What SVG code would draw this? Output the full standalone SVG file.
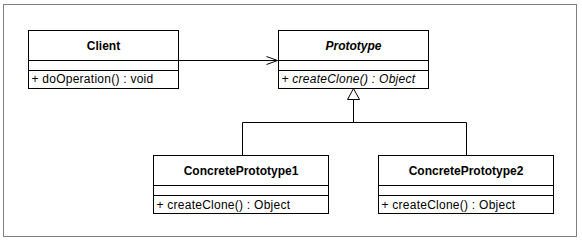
<svg xmlns="http://www.w3.org/2000/svg" width="582" height="242" viewBox="0 0 582 242">
<defs>
<style>
.box{fill:#fff;stroke:#000;stroke-width:1}
.ln{stroke:#000;stroke-width:1;fill:none}
.t{font-family:"Liberation Sans",Arial,sans-serif;font-size:12px;font-weight:bold;text-anchor:middle;fill:#000}
.m{font-family:"Liberation Sans",Arial,sans-serif;font-size:12px;letter-spacing:0.25px;fill:#000}
</style>
<marker id="open" markerWidth="14" markerHeight="12" refX="12" refY="5" orient="auto" markerUnits="userSpaceOnUse">
<path d="M1,1 L12,5 L1,9" fill="none" stroke="#000" stroke-width="1"/>
</marker>
</defs>
<rect x="3.5" y="4.5" width="573" height="232" fill="#fff" stroke="#808080" stroke-width="1"/>
<g id="connectors">
<line class="ln" x1="178.5" y1="60.5" x2="277.5" y2="60.5" marker-end="url(#open)"/>
<polyline class="ln" points="242.5,155.5 242.5,122.5 466.5,122.5 466.5,155.5"/>
<line class="ln" x1="353.5" y1="122.5" x2="353.5" y2="99.5"/>
<polygon points="353.5,88.5 347.5,99.5 359.5,99.5" fill="#fff" stroke="#000" stroke-width="1"/>
</g>
<g id="client">
<rect class="box" x="28.5" y="30.5" width="150" height="58"/>
<line class="ln" x1="28.5" y1="60.5" x2="178.5" y2="60.5"/>
<line class="ln" x1="28.5" y1="70.5" x2="178.5" y2="70.5"/>
<text class="t" x="103.5" y="50">Client</text>
<text class="m" x="31.5" y="83">+ doOperation() : void</text>
</g>
<g id="prototype">
<rect class="box" x="278.5" y="30.5" width="150" height="58"/>
<line class="ln" x1="278.5" y1="60.5" x2="428.5" y2="60.5"/>
<line class="ln" x1="278.5" y1="70.5" x2="428.5" y2="70.5"/>
<text class="t" x="353.5" y="50" font-style="italic">Prototype</text>
<text class="m" x="281.5" y="83" font-style="italic">+ createClone() : Object</text>
</g>
<g id="concrete1">
<rect class="box" x="153.5" y="155.5" width="175" height="58"/>
<line class="ln" x1="153.5" y1="185.5" x2="328.5" y2="185.5"/>
<line class="ln" x1="153.5" y1="195.5" x2="328.5" y2="195.5"/>
<text class="t" x="241" y="175">ConcretePrototype1</text>
<text class="m" x="156.5" y="208.5">+ createClone() : Object</text>
</g>
<g id="concrete2">
<rect class="box" x="378.5" y="155.5" width="175" height="58"/>
<line class="ln" x1="378.5" y1="185.5" x2="553.5" y2="185.5"/>
<line class="ln" x1="378.5" y1="195.5" x2="553.5" y2="195.5"/>
<text class="t" x="466" y="175">ConcretePrototype2</text>
<text class="m" x="381.5" y="208.5">+ createClone() : Object</text>
</g>
</svg>
